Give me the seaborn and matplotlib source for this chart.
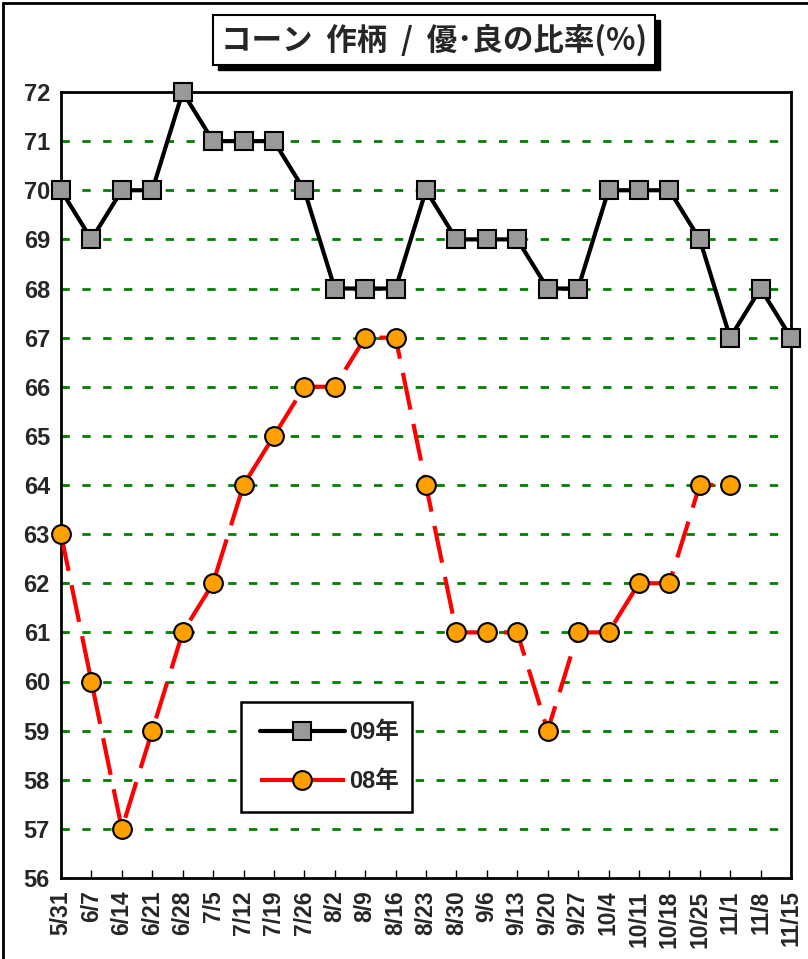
import matplotlib
matplotlib.use("Agg")
import matplotlib.pyplot as plt
import seaborn as sns
import pandas as pd
import numpy as np
from matplotlib.patches import Rectangle
from matplotlib.lines import Line2D

weeks = ["5/31", "6/7", "6/14", "6/21", "6/28", "7/5", "7/12", "7/19", "7/26",
         "8/2", "8/9", "8/16", "8/23", "8/30", "9/6", "9/13", "9/20", "9/27",
         "10/4", "10/11", "10/18", "10/25", "11/1", "11/8", "11/15"]
y09 = [70, 69, 70, 70, 72, 71, 71, 71, 70, 68, 68, 68, 70, 69, 69, 69, 68, 68,
       70, 70, 70, 69, 67, 68, 67]
y08 = [63, 60, 57, 59, 61, 62, 64, 65, 66, 66, 67, 67, 64, 61, 61, 61, 59, 61,
       61, 62, 62, 64, 64, np.nan, np.nan]
yticks = list(range(56, 73))
title = "コーン  作柄  /  優･良の比率(%)"

sns.set_theme(style="white")
plt.rcParams['font.family'] = ['Liberation Sans', 'Noto Sans CJK JP', 'DejaVu Sans']

fig = plt.figure(figsize=(8.08, 9.59), dpi=100)
ax = fig.add_axes([61/808, 1-878/959, (791-61)/808, (878-92)/959])

pos = np.arange(len(weeks))
df = pd.DataFrame({"pos": pos, "y09": y09, "y08": y08})

sns.lineplot(data=df, x="pos", y="y09", ax=ax, color="black", lw=3,
             marker="s", markersize=13.5, markerfacecolor="#999999",
             markeredgecolor="black", markeredgewidth=1.5, zorder=4,
             clip_on=False)
d08 = df.dropna(subset=["y08"])
sns.lineplot(data=d08, x="pos", y="y08", ax=ax, color="#FF0000", lw=3,
             marker="o", markersize=13.5, markerfacecolor="#FFA000",
             markeredgecolor="black", markeredgewidth=1.5, zorder=4,
             clip_on=False, dashes=False)
ax.lines[-1].set_dashes([9, 3.5])

ax.set_xlim(0, len(weeks) - 1)
ax.set_ylim(56, 72)
ax.set_xticks(pos)
ax.set_xticklabels(weeks, rotation=90, fontsize=16.5, fontweight="bold")
ax.set_yticks(yticks)
ax.set_yticklabels([str(v) for v in yticks], fontsize=17, fontweight="bold")
ax.set_xlabel("")
ax.set_ylabel("")
ax.tick_params(axis="x", direction="in", length=6, width=1, pad=9, color="black", bottom=True)
ax.tick_params(axis="y", direction="in", length=4, width=1, pad=8, color="black", left=True)

for v in yticks[1:-1]:
    ax.axhline(v, color="#008000", lw=2, dashes=(3, 4.5), zorder=1)

for s in ax.spines.values():
    s.set_visible(True)
    s.set_color("black")
    s.set_linewidth(2)

handles = [
    Line2D([], [], color="black", lw=3, marker="s", markersize=13.5,
           markerfacecolor="#999999", markeredgecolor="black", markeredgewidth=1.5),
    Line2D([], [], color="#FF0000", lw=3, marker="o", markersize=13.5, dashes=[8.5, 3.5],
           markerfacecolor="#FFA000", markeredgecolor="black", markeredgewidth=1.5),
]
leg = ax.legend(handles, ["09年", "08年"], loc="lower left",
                bbox_to_anchor=((241-61)/730, (878-812)/786, (412-241)/730, (812-699)/786),
                mode="expand", borderaxespad=0,
                prop={"family": ["Liberation Sans", "Noto Sans CJK JP"], "weight": "bold", "size": 17},
                handlelength=3.6, handletextpad=0.2, labelspacing=1.1, borderpad=0.8,
                frameon=True, fancybox=False, edgecolor="black", framealpha=1)
leg.get_frame().set_linewidth(1.8)
leg.set_zorder(6)

# title box with shadow
fig.patches.append(Rectangle((218/808, 1-70/959), (660-218)/808, (70-20)/959,
                             transform=fig.transFigure, facecolor="black",
                             edgecolor="black", zorder=1))
fig.patches.append(Rectangle((213/808, 1-65/959), (655-213)/808, (65-15)/959,
                             transform=fig.transFigure, facecolor="white",
                             edgecolor="black", lw=1.5, zorder=2))
fig.text(434/808, 1-40/959, title, ha="center", va="center", fontsize=22,
         fontweight="bold", family=["Noto Sans CJK JP", "DejaVu Sans"], zorder=3)

# outer frame
fig.patches.append(Rectangle((3/808, -0.1), 1.2, 1 - 3/959 + 0.1,
                             transform=fig.transFigure, facecolor="none",
                             edgecolor="black", lw=2, zorder=0))

fig.savefig("out.png", dpi=100)
